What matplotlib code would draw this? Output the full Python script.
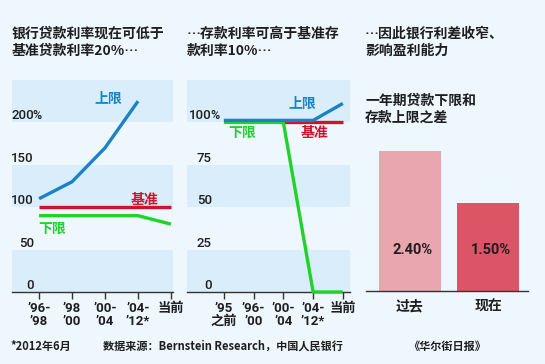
import numpy as np
import matplotlib
matplotlib.use("Agg")
import matplotlib.pyplot as plt
import matplotlib.transforms as mtrans

plt.rcParams['font.family'] = ['Noto Sans CJK SC', 'DejaVu Sans']

# ---------------- data ----------------
cats1 = ["’96-\n’98", "’98\n’00", "’00-\n’04", "’04-\n’12*", "当前"]
loan_upper = [110, 130, 170, 225, np.nan]
loan_base = [100, 100, 100, 100, 100]
loan_lower = [90, 90, 90, 90, 80]
yticks1 = [0, 50, 100, 150, 200]

cats2 = ["’95\n之前", "’96-\n’00", "’00-\n’04", "’04-\n’12*", "当前"]
dep_upper = [100, 100, 100, 100, 110]
dep_base = [np.nan, np.nan, 100, 100, 100]
dep_lower = [100, 100, 100, 0, 0]
yticks2 = [0, 25, 50, 75, 100]

bar_cats = ["过去", "现在"]
bar_vals = [2.40, 1.50]
bar_labels = ["2.40%", "1.50%"]

# ---------------- style ----------------
W, H = 545, 364
BG = "#eef7fd"
BAND = "#d9eefa"
BLUE = "#1b82c8"
RED = "#d0122c"
GREEN = "#22d22a"
TXT = "#1e1e1e"
AX = "#333333"
LATIN = ['Roboto', 'Noto Sans CJK SC']

fig = plt.figure(figsize=(W / 100, H / 100), dpi=100, facecolor=BG)


def px_axes(l, t, r, b):
    return fig.add_axes([l / W, 1 - b / H, (r - l) / W, (b - t) / H])


def style_line_axes(ax, cats, xlim, ylim, bands):
    ax.set_facecolor(BG)
    for lo, hi in bands:
        ax.axhspan(lo, hi, color=BAND, lw=0, zorder=0)
    ax.set_xlim(*xlim)
    ax.set_ylim(*ylim)
    for s in ['top', 'right', 'left']:
        ax.spines[s].set_visible(False)
    ax.spines['bottom'].set_color(AX)
    ax.spines['bottom'].set_linewidth(1.0)
    ax.spines['bottom'].set_zorder(2)
    ax.set_yticks([])
    ax.set_xticks(range(len(cats)))
    ax.set_xticklabels(cats, fontsize=9.5, color=TXT, fontweight='bold',
                       family=LATIN, linespacing=1.0)
    ax.tick_params(axis='x', length=5, width=1, color=AX, pad=2)


def ylabels(ax, ticks, xfrac, top_pct):
    tr = mtrans.blended_transform_factory(ax.transAxes, ax.transData)
    trp = mtrans.offset_copy(tr, fig=fig, x=-1.5, y=0, units='dots')
    for v in ticks:
        ax.text(xfrac, v, str(v), transform=tr, ha='right', va='bottom',
                fontsize=9.5, color=TXT, family=LATIN, fontweight='medium')
        if v == top_pct:
            ax.text(xfrac, v, "%", transform=trp, ha='left', va='bottom',
                    fontsize=9, color=TXT, family=LATIN, fontweight='medium')


LW = 2.4

# ---------------- panel 1 ----------------
ax1 = px_axes(12, 80, 173, 292)
x1 = np.arange(len(cats1))
style_line_axes(ax1, cats1, (-0.82, 4.06), (0, 250), [(0, 50), (100, 150), (200, 250)])
ax1.plot(x1, loan_base, color=RED, lw=LW, solid_capstyle='butt', zorder=3)
ax1.plot(x1, loan_lower, color=GREEN, lw=LW, solid_capstyle='butt', zorder=3)
ax1.plot(x1, loan_upper, color=BLUE, lw=LW, solid_capstyle='butt', zorder=4)
ylabels(ax1, yticks1, 0.137, 200)
ax1.text(2.1, 228, "上限", color=BLUE, fontsize=10, fontweight='bold', ha='center', va='center')
ax1.text(3.2, 109, "基准", color=RED, fontsize=10, fontweight='bold', ha='center', va='center')
ax1.text(0.4, 75, "下限", color=GREEN, fontsize=10, fontweight='bold', ha='center', va='center')

# ---------------- panel 2 ----------------
ax2 = px_axes(187, 80, 350, 292)
x2 = np.arange(len(cats2))
style_line_axes(ax2, cats2, (-1.24, 4.24), (0, 125), [(0, 25), (50, 75), (100, 125)])
up = mtrans.offset_copy(ax2.transData, fig=fig, x=0, y=2.0, units='dots')
ax2.plot(x2, dep_base, color=RED, lw=LW, solid_capstyle='butt', zorder=3)
ax2.plot(x2, dep_lower, color=GREEN, lw=LW, solid_capstyle='butt', zorder=3, clip_on=False)
ax2.plot(x2, dep_upper, color=BLUE, lw=LW, solid_capstyle='butt', zorder=4, transform=up)
ylabels(ax2, yticks2, 0.153, 100)
ax2.text(2.65, 111, "上限", color=BLUE, fontsize=10, fontweight='bold', ha='center', va='center')
ax2.text(3.05, 94, "基准", color=RED, fontsize=10, fontweight='bold', ha='center', va='center')
ax2.text(0.6, 94, "下限", color=GREEN, fontsize=10, fontweight='bold', ha='center', va='center')

# ---------------- panel 3 ----------------
ax3 = px_axes(366, 115.5, 528, 291)
ax3.set_facecolor(BG)
xb = np.arange(len(bar_cats))
ax3.bar(xb, bar_vals, width=0.795, color=["#eaa6af", "#dc5567"], zorder=2)
ax3.set_xlim(-0.564, 1.51)
ax3.set_ylim(0, 3.0)
for s in ['top', 'right', 'left']:
    ax3.spines[s].set_visible(False)
ax3.spines['bottom'].set_color(AX)
ax3.spines['bottom'].set_linewidth(1.0)
ax3.set_yticks([])
ax3.set_xticks(xb)
ax3.set_xticklabels(bar_cats, fontsize=10, color=TXT, fontweight='bold')
ax3.tick_params(axis='x', length=0, pad=6)
for xi, lab in zip(xb, bar_labels):
    ax3.text(xi + 0.03, 0.7, lab, ha='center', va='center', fontsize=10.5,
             fontweight='bold', color=TXT, family=LATIN)

# ---------------- titles ----------------
tkw = dict(fontsize=10, fontweight='bold', color=TXT, va='top', ha='left', linespacing=1.25)
fig.text(12 / W, 1 - 27 / H, "银行贷款利率现在可低于\n基准贷款利率20%…", **tkw)
fig.text(187 / W, 1 - 27 / H, "…存款利率可高于基准存\n款利率10%…", **tkw)
fig.text(365 / W, 1 - 27 / H, "…因此银行利差收窄、\n影响盈利能力", **tkw)
fig.text(365 / W, 1 - 94 / H, "一年期贷款下限和\n存款上限之差", **tkw)

# ---------------- footer ----------------
fkw = dict(fontsize=8, fontweight='bold', color=TXT, va='center', ha='left')
fig.text(10 / W, 1 - 346 / H, "*2012年6月", **fkw)
fig.text(103 / W, 1 - 346 / H, "数据来源：Bernstein Research，中国人民银行", **fkw)
fig.text(408 / W, 1 - 346 / H, "《华尔街日报》", **fkw)

fig.savefig("out.png", dpi=100, facecolor=BG)
